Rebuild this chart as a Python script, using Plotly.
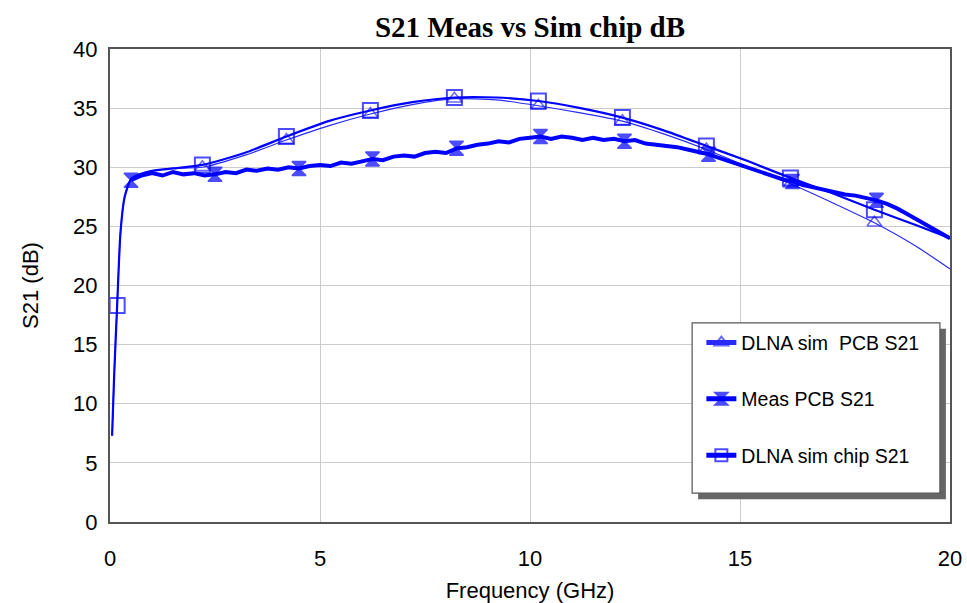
import plotly.graph_objects as go

# Simulated S21 curves share one frequency grid (GHz)
sim_freq = [0.05, 0.1, 0.17, 0.25, 0.35, 0.5, 0.7, 1.0, 1.5, 2.2, 3.2, 4.2, 5.2, 6.2,
            7.2, 8.2, 9.2, 10.2, 11.2, 12.2, 13.2, 14.2, 15.2, 16.2, 17.2, 18.2, 19.2, 20.0]
chip_s21 = [7.3, 12.5, 18.3, 24.5, 27.5, 29.0, 29.4, 29.7, 29.9, 30.2, 31.2, 32.6, 33.9, 34.8,
            35.5, 35.9, 35.9, 35.6, 35.0, 34.2, 33.1, 31.8, 30.5, 29.1, 27.8, 26.4, 25.1, 24.0]
pcb_s21 = [7.3, 12.5, 18.3, 24.5, 27.5, 29.0, 29.4, 29.7, 29.9, 30.0, 31.0, 32.3, 33.5, 34.5,
           35.3, 35.8, 35.7, 35.2, 34.6, 33.9, 32.8, 31.5, 30.0, 28.6, 27.0, 25.3, 23.3, 21.4]
chip_marker_freq = [0.17, 2.2, 4.2, 6.2, 8.2, 10.2, 12.2, 14.2, 16.2, 18.2]
pcb_marker_freq = [2.2, 4.2, 6.2, 8.2, 10.2, 12.2, 14.2, 16.2, 18.2]

# Measured S21 on PCB (GHz, dB)
meas_freq = [0.5, 0.75, 1.0, 1.25, 1.5, 1.75, 2.0, 2.25, 2.5, 2.75, 3.0, 3.25, 3.5, 3.75,
             4.0, 4.25, 4.5, 4.75, 5.0, 5.25, 5.5, 5.75, 6.0, 6.25, 6.5, 6.75, 7.0, 7.25,
             7.5, 7.75, 8.0, 8.25, 8.5, 8.75, 9.0, 9.25, 9.5, 9.75, 10.0, 10.25, 10.5, 10.75,
             11.0, 11.25, 11.5, 11.75, 12.0, 12.25, 12.5, 12.75, 13.0, 13.25, 13.5, 13.75,
             14.0, 14.25, 14.5, 14.75, 15.0, 15.25, 15.5, 15.75, 16.0, 16.25, 16.5, 16.75,
             17.0, 17.25, 17.5, 17.75, 18.0, 18.25, 18.5, 18.75, 19.0, 19.25, 19.5, 19.75, 20.0]
meas_s21 = [28.9, 29.3, 29.5, 29.3, 29.6, 29.4, 29.5, 29.3, 29.4, 29.6, 29.5, 29.8, 29.7, 29.9,
            29.8, 30.0, 29.9, 30.1, 30.2, 30.1, 30.4, 30.3, 30.5, 30.7, 30.6, 30.9, 31.0, 30.9,
            31.2, 31.3, 31.2, 31.6, 31.7, 31.9, 32.0, 32.2, 32.1, 32.4, 32.5, 32.6, 32.4, 32.6,
            32.5, 32.3, 32.5, 32.3, 32.4, 32.2, 32.3, 32.0, 31.9, 31.8, 31.7, 31.5,
            31.3, 31.1, 30.8, 30.5, 30.2, 29.9, 29.6, 29.3, 29.0, 28.8, 28.5, 28.3,
            28.1, 27.9, 27.7, 27.6, 27.4, 27.2, 26.9, 26.5, 26.0, 25.5, 25.0, 24.5, 24.0]
meas_marker_freq = [0.5, 2.5, 4.5, 6.25, 8.25, 10.25, 12.25, 14.25, 16.25, 18.25]

x_ticks = [0, 5, 10, 15, 20]
y_ticks = [0, 5, 10, 15, 20, 25, 30, 35, 40]

BLUE = "#0000ff"
SANS = "Liberation Sans, Arial, sans-serif"


def marker_sizes(freqs, marked, size):
    return [size if any(abs(f - m) < 1e-6 for m in marked) else 0 for f in freqs]


fig = go.Figure()

fig.add_trace(go.Scatter(
    x=sim_freq, y=pcb_s21, name="DLNA sim\u00a0\u00a0PCB S21",
    mode="lines+markers", line=dict(color="#2a2aff", width=1.2, shape="spline", smoothing=0.6),
    marker=dict(symbol="triangle-up-open", color="#2a2aff",
                size=marker_sizes(sim_freq, pcb_marker_freq, 13), line=dict(width=1.5)),
    legendgroup="a",
))
fig.add_trace(go.Scatter(
    x=meas_freq, y=meas_s21, name="Meas PCB S21",
    mode="lines+markers", line=dict(color=BLUE, width=4),
    marker=dict(symbol="hourglass", color=BLUE,
                size=marker_sizes(meas_freq, meas_marker_freq, 14), line=dict(width=1.5, color=BLUE)),
    legendgroup="b",
))
fig.add_trace(go.Scatter(
    x=sim_freq, y=chip_s21, name="DLNA sim chip S21",
    mode="lines+markers", line=dict(color=BLUE, width=2.2, shape="spline", smoothing=0.6),
    marker=dict(symbol="square-open", color=BLUE,
                size=marker_sizes(sim_freq, chip_marker_freq, 15), line=dict(width=2)),
    legendgroup="c",
))

# Legend frame with drop shadow (paper coordinates)
x0, x1 = 0.693, 0.988
y0, y1 = 0.061, 0.421
dx, dy = 6 / 840, 6 / 473
fig.add_shape(type="rect", xref="paper", yref="paper", x0=x0 + dx, x1=x1 + dx, y0=y0 - dy, y1=y1 - dy,
              fillcolor="#666666", line=dict(width=0), layer="above")
fig.add_shape(type="rect", xref="paper", yref="paper", x0=x0, x1=x1, y0=y0, y1=y1,
              fillcolor="white", line=dict(color="#555555", width=1.2), layer="above")

fig.update_layout(
    width=967, height=603,
    margin=dict(l=110, r=17, t=49, b=81, autoexpand=False),
    paper_bgcolor="white", plot_bgcolor="white",
    title=dict(text="<b>S21 Meas vs Sim chip dB</b>", x=530 / 967, xanchor="center",
               y=1 - 27 / 603, yanchor="middle",
               font=dict(family="Liberation Serif, Times New Roman, serif", size=29, color="black")),
    showlegend=True,
    legend=dict(x=0.704, y=0.42, xanchor="left", yanchor="top", bgcolor="rgba(0,0,0,0)",
                borderwidth=0, font=dict(family=SANS, size=19.5, color="black"),
                itemsizing="constant", tracegroupgap=28, traceorder="grouped", itemwidth=30),
    xaxis=dict(range=[0, 20], tickvals=x_ticks, showgrid=True, gridcolor="#cccccc", gridwidth=1,
               zeroline=False, showline=True, linecolor="#555555", linewidth=2, mirror=True,
               ticks="", ticklabelstandoff=16, automargin=False,
               tickfont=dict(family=SANS, size=22, color="black"),
               title=dict(text="Frequency (GHz)", standoff=14,
                          font=dict(family=SANS, size=22, color="black"))),
    yaxis=dict(range=[0, 40], tickvals=y_ticks, showgrid=True, gridcolor="#cccccc", gridwidth=1,
               zeroline=False, showline=True, linecolor="#555555", linewidth=2, mirror=True,
               ticks="", ticklabelstandoff=6, automargin=False,
               tickfont=dict(family=SANS, size=22, color="black"),
               title=dict(text="S21 (dB)", standoff=28,
                          font=dict(family=SANS, size=22, color="black"))),
)

fig.write_html("out.html")
